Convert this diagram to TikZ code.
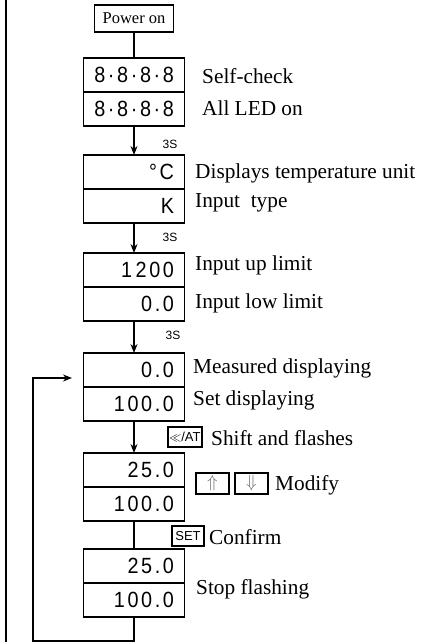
\documentclass[tikz,border=0pt]{standalone}
\usepackage{fontspec}
\setmainfont{Liberation Serif}
\setsansfont{Liberation Sans}
\newfontfamily\segfont[FakeStretch=0.9,LetterSpace=12]{Liberation Sans}
\usetikzlibrary{arrows.meta,positioning}

\begin{document}
\begin{tikzpicture}[x=1pt, y=-1pt,
  pwr/.style={draw, line width=1.8pt, font=\fontsize{16.5}{16.5}\selectfont, minimum width=79pt, minimum height=27pt, inner sep=2pt},
  disp/.style={draw, line width=1.8pt, outer sep=0pt, minimum width=101pt, minimum height=34pt, text width=80pt, align=right, inner sep=0pt, font=\segfont\fontsize{22}{22}\selectfont},
  lbl/.style={anchor=west, inner sep=0pt, font=\fontsize{21.3}{22}\selectfont},
  key/.style={draw, line width=1.4pt, inner sep=1.5pt, minimum height=20pt, font=\sffamily\fontsize{13}{13}\selectfont},
  tim/.style={font=\sffamily\fontsize{12}{12}\selectfont},
  conn/.style={line width=1.4pt},
  flow/.style={conn, -{Stealth[length=9pt,width=7pt]}}]
  \useasboundingbox (0,0) rectangle (442,642);
  \draw[line width=1.8pt] (6,0) -- (6,642);
  % start
  \node[pwr] (pw) at (134,18.5) {Power on};
  % displays, upper and lower row
  \node[disp] (d1a) at (134,75) {8·8·8·8};
  \node[disp, below=0pt of d1a] (d1b) {8·8·8·8};
  \node[disp] (d2a) at (134,172) {°C};
  \node[disp, below=0pt of d2a] (d2b) {K};
  \node[disp] (d3a) at (134,270) {1\,200};
  \node[disp, below=0pt of d3a] (d3b) {0.0};
  \node[disp] (d4a) at (134,370) {0.0};
  \node[disp, below=0pt of d4a] (d4b) {100.0};
  \node[disp] (d5a) at (134,470) {25.0};
  \node[disp, below=0pt of d5a] (d5b) {100.0};
  \node[disp] (d6a) at (134,566) {25.0};
  \node[disp, below=0pt of d6a] (d6b) {100.0};
  % texts
  \node[lbl] (t1a) at (202,76) {Self-check};
  \node[lbl] (t1b) at (202,108) {All LED on};
  \node[lbl] (t2a) at (195,173) {Displays temperature unit};
  \node[lbl] (t2b) at (195,203) {Input~ type};
  \node[lbl] (t3a) at (195,265) {Input up limit};
  \node[lbl] (t3b) at (195,303) {Input low limit};
  \node[lbl] (t4a) at (193,368) {Measured displaying};
  \node[lbl] (t4b) at (193,400) {Set displaying};
  \node[lbl] (t6) at (196,589) {Stop flashing};
  % keys
  \node[key, minimum width=34pt] (kshift) at (185,437) {$\ll$/AT};
  \node[lbl] (tshift) at (211,438) {Shift and flashes};
  \node[key, minimum width=33pt, minimum height=21pt, text=black!60, font=\fontsize{17}{17}\selectfont] (kup) at (212.5,483.5) {$\Uparrow$};
  \node[key, minimum width=33pt, minimum height=21pt, text=black!60, font=\fontsize{17}{17}\selectfont] (kdn) at (251.5,483.5) {$\Downarrow$};
  \node[lbl] (tmod) at (275,485) {Modify};
  \node[key, minimum width=32pt] (kset) at (188,536) {SET};
  \node[lbl] (tset) at (209,537) {Confirm};
  % 3 s waits
  \node[tim] (s1) at (170,144) {3S};
  \node[tim] (s2) at (170,237) {3S};
  \node[tim] (s3) at (173,335) {3S};
  % connectors
  \draw[conn] (pw) -- (d1a);
  \foreach \a/\b in {d1b/d2a, d2b/d3a, d3b/d4a, d4b/d5a}
    \draw[flow] (\a) -- (\b);
  \draw[conn] (d5b) -- (d6a);
  \coordinate (back) at (33,641);
  \coordinate (entry) at (72,378);
  \draw[flow] (d6b.south) |- (back) |- (entry);
\end{tikzpicture}
\end{document}
